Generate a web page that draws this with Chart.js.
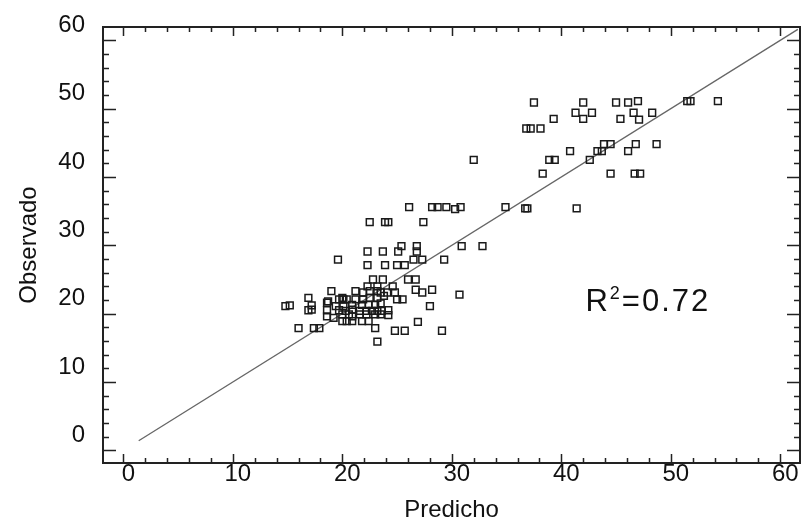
<!DOCTYPE html>
<html>
<head>
<meta charset="utf-8">
<script src="https://cdn.jsdelivr.net/npm/chart.js@4"></script>
<style>
  html, body { margin: 0; padding: 0; background: #fff; }
  #wrap { width: 808px; height: 527px; }
</style>
</head>
<body>
<div id="wrap"><canvas id="chart" width="808" height="527"></canvas></div>
<script>
// valores (Predicho vs Observado)
const predicho = [
  37.5, 42.0, 45.0, 46.1, 47.0, 51.5, 51.8, 54.3, 41.3, 42.8, 46.6, 48.3,
  39.3, 42.0, 45.4, 47.1, 36.8, 37.2, 38.1, 43.9, 44.5, 46.8, 48.7, 40.8,
  43.3, 43.7, 46.1, 32.0, 38.9, 39.4, 42.6, 38.3, 44.5, 46.7, 47.2,
  26.1, 28.2, 28.7, 29.5, 30.3, 30.8, 34.9, 36.7, 36.9, 41.4,
  22.5, 23.9, 24.2, 27.4,
  22.3, 23.7, 25.1, 25.4, 26.8, 26.8, 30.9, 32.8,
  22.3, 23.9, 25.0, 25.7, 26.5, 27.3, 29.3, 19.6,
  22.8, 23.7, 26.0, 26.7, 24.6, 22.3, 23.2,
  21.9, 22.5, 23.2, 23.5, 24.1, 24.8, 26.7, 27.3, 28.2, 30.7, 19.0, 21.2, 16.9,
  18.7, 19.7, 20.1, 20.4, 21.2, 21.9, 22.5, 23.2, 23.8, 25.0, 25.5,
  14.8, 15.2, 17.2, 18.6, 19.4, 20.1, 20.9, 21.8, 22.4, 23.0, 23.5, 28.0,
  16.9, 17.2, 18.6, 19.7, 20.3, 20.9, 21.6, 22.2, 22.7, 23.2, 23.6, 24.2,
  18.6, 19.2, 20.0, 20.6, 20.9, 21.6, 22.2, 23.0, 23.5, 24.2,
  16.0, 17.4, 17.9, 20.0, 20.4, 20.9, 21.8, 22.4, 23.0, 24.8, 25.7, 26.9, 29.1, 23.2, 20.0
];
const observado = [
  50.9, 50.9, 50.9, 50.9, 51.1, 51.1, 51.1, 51.1, 49.4, 49.4, 49.4, 49.4,
  48.5, 48.5, 48.5, 48.4, 47.1, 47.1, 47.1, 44.8, 44.8, 44.8, 44.8, 43.8,
  43.8, 43.8, 43.8, 42.5, 42.5, 42.5, 42.5, 40.5, 40.5, 40.5, 40.5,
  35.6, 35.6, 35.6, 35.6, 35.3, 35.6, 35.6, 35.4, 35.4, 35.4,
  33.4, 33.4, 33.4, 33.4,
  29.1, 29.1, 29.1, 29.9, 29.9, 29.1, 29.9, 29.9,
  27.1, 27.1, 27.1, 27.1, 27.9, 27.9, 27.9, 27.9,
  25.0, 25.0, 25.0, 25.0, 24.0, 24.0, 24.0,
  23.1, 23.3, 23.3, 23.1, 23.1, 23.1, 23.5, 23.1, 23.5, 22.8, 23.3, 23.3, 22.3,
  21.8, 22.1, 22.1, 22.1, 22.1, 22.1, 22.3, 22.3, 22.6, 22.1, 22.1,
  21.1, 21.2, 21.2, 21.6, 21.1, 21.1, 21.3, 21.3, 21.3, 21.3, 21.5, 21.1,
  20.5, 20.6, 20.5, 20.5, 20.4, 20.6, 20.4, 20.4, 20.4, 20.4, 20.4, 20.5,
  19.6, 19.4, 19.9, 19.9, 19.6, 19.9, 19.9, 19.9, 19.9, 19.8,
  17.9, 17.9, 17.9, 18.9, 18.9, 18.9, 18.9, 18.9, 17.9, 17.5, 17.5, 18.8, 17.5, 15.9, 22.3
];

// línea 1:1
const lineaX = [1.4, 61.6];
const lineaY = [1.4, 61.6];

const xTicks = [0, 10, 20, 30, 40, 50, 60];
const yTicks = [0, 10, 20, 30, 40, 50, 60];
const minorTicks = [];
for (let v = 0; v <= 60; v += 2) minorTicks.push(v);

const r2 = { x: 42.2, y: 20.4, valor: "0.72" };

const FONT = "'Liberation Sans', Arial, Helvetica, sans-serif";
const INK = "#111";

const marcoPlugin = {
  id: "marco",
  afterDraw(chart) {
    const { ctx, chartArea: a, scales: { x, y } } = chart;
    ctx.save();
    ctx.strokeStyle = "#222";
    ctx.lineWidth = 2;
    ctx.strokeRect(a.left, a.top, a.right - a.left, a.bottom - a.top);

    ctx.lineWidth = 1.5;
    ctx.beginPath();
    minorTicks.forEach(v => {
      const major = v % 10 === 0;
      const px = Math.round(x.getPixelForValue(v)) + 0.5;
      const py = Math.round(y.getPixelForValue(v)) + 0.5;
      const h = major ? 9 : 5;
      const w = major ? 13 : 6;
      ctx.moveTo(px, a.bottom); ctx.lineTo(px, a.bottom - h);
      ctx.moveTo(px, a.top); ctx.lineTo(px, a.top + h);
      ctx.moveTo(a.left, py); ctx.lineTo(a.left + w, py);
      ctx.moveTo(a.right, py); ctx.lineTo(a.right - w, py);
    });
    ctx.stroke();

    // etiqueta R^2
    let tx = x.getPixelForValue(r2.x);
    const ty = y.getPixelForValue(r2.y);
    ctx.fillStyle = INK;
    ctx.textBaseline = "alphabetic";
    ctx.textAlign = "left";
    ctx.letterSpacing = "2px";
    ctx.font = "31px " + FONT;
    ctx.fillText("R", tx, ty);
    tx += ctx.measureText("R").width;
    ctx.font = "18px " + FONT;
    ctx.fillText("2", tx, ty - 12);
    tx += ctx.measureText("2").width;
    ctx.font = "31px " + FONT;
    ctx.fillText("=" + r2.valor, tx, ty);
    ctx.restore();
  }
};

new Chart(document.getElementById("chart"), {
  type: "scatter",
  data: {
    datasets: [
      {
        label: "Observado",
        data: predicho.map((v, i) => ({ x: v, y: observado[i] })),
        pointStyle: "rect",
        pointRadius: 4.8,
        pointBorderWidth: 1.5,
        borderColor: "#1a1a1a",
        backgroundColor: "rgba(255,255,255,0)",
        order: 1
      },
      {
        type: "line",
        label: "1:1",
        data: lineaX.map((v, i) => ({ x: v, y: lineaY[i] })),
        borderColor: "#666",
        borderWidth: 1.3,
        pointRadius: 0,
        fill: false,
        order: 2
      }
    ]
  },
  options: {
    responsive: false,
    animation: false,
    layout: { padding: { top: 27, right: 8, left: 0, bottom: 0 } },
    plugins: {
      legend: { display: false },
      tooltip: { enabled: false }
    },
    scales: {
      x: {
        type: "linear",
        min: -1.86,
        max: 61.8,
        grid: { display: false, drawTicks: false },
        border: { display: false },
        afterBuildTicks: s => { s.ticks = xTicks.map(v => ({ value: v })); },
        afterFit: s => { s.height = 64; s.paddingLeft = 0; s.paddingRight = 0; },
        ticks: {
          color: INK,
          font: { family: FONT, size: 24 },
          padding: -3,
          labelOffset: 5,
          maxRotation: 0,
          autoSkip: false
        },
        title: {
          display: true,
          text: "Predicho",
          color: INK,
          font: { family: FONT, size: 24 },
          padding: { top: 0, bottom: 2 }
        }
      },
      y: {
        type: "linear",
        min: -1.85,
        max: 61.95,
        grid: { display: false, drawTicks: false },
        border: { display: false },
        afterBuildTicks: s => { s.ticks = yTicks.map(v => ({ value: v })); },
        afterFit: s => { s.width = 103; s.paddingTop = 0; s.paddingBottom = 0; },
        ticks: {
          color: INK,
          font: { family: FONT, size: 24 },
          padding: 18,
          labelOffset: -15,
          autoSkip: false
        },
        title: {
          display: true,
          text: "Observado",
          color: INK,
          font: { family: FONT, size: 24 },
          padding: { top: 15, bottom: 0 }
        }
      }
    }
  },
  plugins: [marcoPlugin]
});
</script>
</body>
</html>
